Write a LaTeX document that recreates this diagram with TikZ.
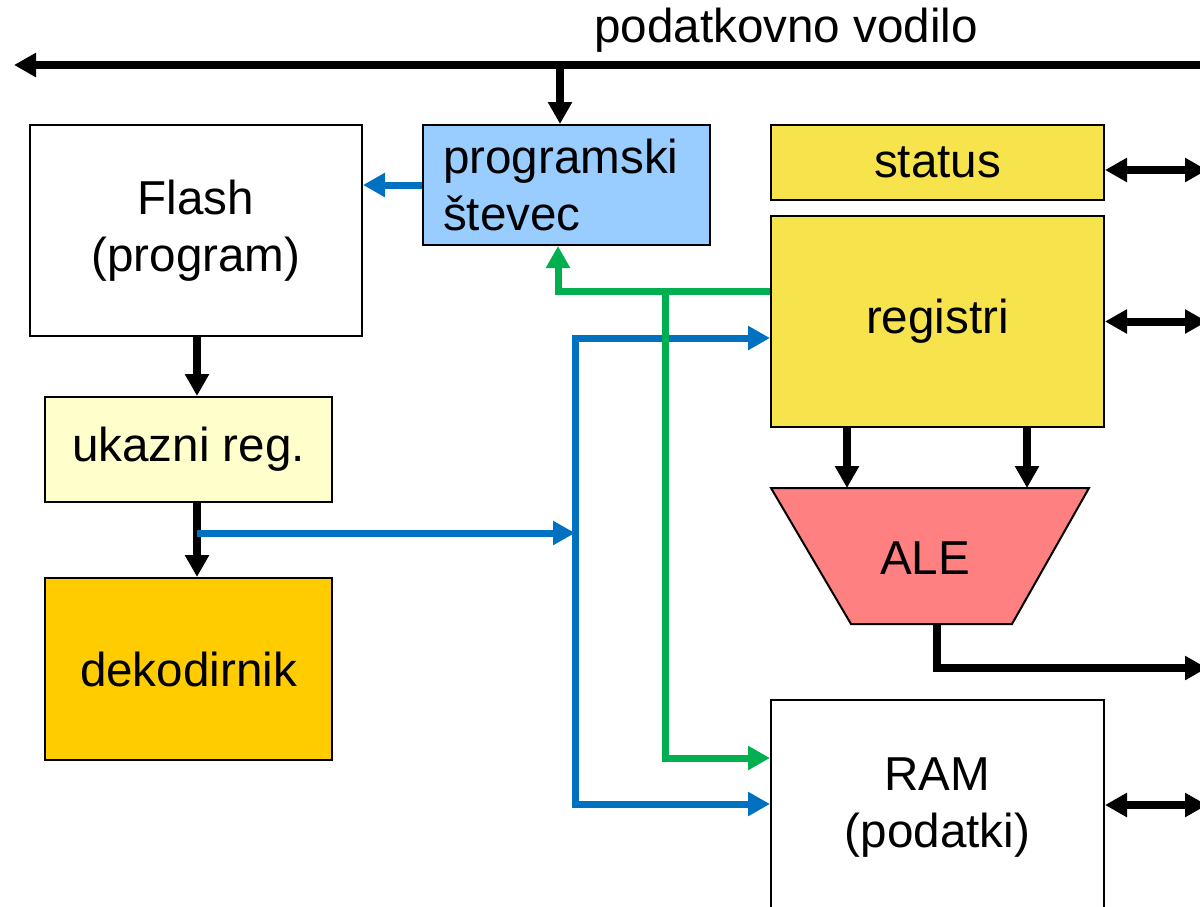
\documentclass[tikz,border=0pt]{standalone}
\usepackage{fontspec}
\setmainfont{Liberation Sans}
\usetikzlibrary{arrows.meta,calc}
\definecolor{linkblue}{HTML}{0070C0}
\definecolor{linkgreen}{HTML}{00B050}
\definecolor{pcblue}{HTML}{99CCFF}
\definecolor{regyellow}{RGB}{247,227,76}
\definecolor{irlight}{HTML}{FFFFCC}
\definecolor{decgold}{HTML}{FFCC00}
\definecolor{alured}{HTML}{FF8080}
\begin{document}
\begin{tikzpicture}[x=0.5pt,y=-0.5pt,
  font=\fontsize{23.8}{28.5}\selectfont,
  box/.style={draw=black, line width=1pt, inner sep=0pt, align=center},
  tip/.style={-{Triangle[length=11pt,width=11.5pt]}},
  twotip/.style={{Triangle[length=11pt,width=11.5pt]}-{Triangle[length=11pt,width=11.5pt]}},
  blk/.style={line width=4pt, draw=black},
  bl/.style={line width=3.5pt, draw=linkblue},
  gr/.style={line width=3.5pt, draw=linkgreen}]
\useasboundingbox (0,0) rectangle (1200,906);

% blocks
\node[box, minimum width=166pt, minimum height=105.5pt] (flash) at (196,230.5) {Flash\\(program)};
\node[box, fill=pcblue, minimum width=143.5pt, minimum height=60pt,
      text width=123.5pt, inner xsep=10pt, align=left] (pc) at (566.5,185) {programski\\števec};
\node[box, fill=regyellow, minimum width=166.5pt, minimum height=37.5pt] (status) at (937.5,162.5) {status};
\node[box, fill=regyellow, minimum width=166.5pt, minimum height=105.5pt] (regs) at (937.5,321.5) {registri};
\node[box, minimum width=166.5pt, minimum height=108pt] (ram) at (937.5,808) {RAM\\(podatki)};
\node[box, fill=irlight, minimum width=143.5pt, minimum height=52.5pt] (ir) at (188.5,449.5) {ukazni reg.};
\node[box, fill=decgold, minimum width=143.5pt, minimum height=91pt] (dec) at (188.5,669) {dekodirnik};

% arithmetic-logic unit
\draw[fill=alured, line width=1pt] (771,488) -- (1089,488) -- (1012,624) -- (851,624) -- cycle;
\node (ale) at (925,558) {ALE};
\coordinate (aleA) at (847,488);
\coordinate (aleB) at (1027,488);
\coordinate (aleOut) at (937,624);

% data bus
\node (buslabel) at (786,30) {podatkovno vodilo};
\coordinate (busR) at (1210,65);
\coordinate (busL) at (14,65);
\coordinate (busTap) at (560,65);
\draw[blk, tip] (busR) -- (busL);
\draw[blk, tip] (busTap) -- (busTap |- pc.north);

% right-hand links
\coordinate (stR) at (1207,170);
\coordinate (rgR) at (1207,321.5);
\coordinate (aluR) at (1207,668);
\coordinate (ramR) at (1207,805);
\draw[blk, twotip] (status.east |- stR) -- (stR);
\draw[blk, twotip] (regs.east) -- (rgR);
\draw[blk, twotip] (ram.east |- ramR) -- (ramR);
\draw[blk, tip] (regs.south -| aleA) -- (aleA);
\draw[blk, tip] (regs.south -| aleB) -- (aleB);
\draw[blk, tip] (aleOut) |- (aluR);

% instruction path
\coordinate (col) at (197,0);
\draw[blk, tip] (flash.south -| col) -- (ir.north -| col);
\draw[blk, tip] (ir.south -| col) -- (dec.north -| col);

% program counter to flash
\draw[bl, tip] (pc.west) -- (pc.west -| flash.east);

% blue control lines
\coordinate (irTap) at (197,533);
\coordinate (b1) at (575,338);
\coordinate (b2) at (575,804);
\draw[bl, tip] (irTap) -- (irTap -| b1);
\draw[bl, twotip] (regs.west |- b1) -- (b1) -- (b2) -- (ram.west |- b2);

% green lines from registers
\coordinate (g1) at (558,291);
\coordinate (g2) at (665,291);
\coordinate (g3) at (665,758);
\draw[gr, tip] (regs.west |- g1) -- (g1) -- (g1 |- pc.south);
\draw[gr, tip] (g2) -- (g3) -- (ram.west |- g3);
\end{tikzpicture}
\end{document}
